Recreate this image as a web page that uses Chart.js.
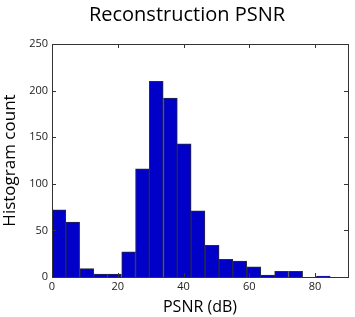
<!DOCTYPE html>
<html lang="en">
  <head>
    <meta charset="UTF-8" />
    <title>Reconstruction PSNR</title>
    <style>
      html, body { margin: 0; padding: 0; background: #fff; }
      #wrap { width: 355px; height: 317px; }
    </style>
  </head>
  <body>
    <div id="wrap"><canvas id="myChart" width="355" height="317"></canvas></div>

    <script src="https://cdn.jsdelivr.net/npm/chart.js"></script>
    <script>
      // histogram bins (centers in dB) and counts
      const binCenters = [2.1, 6.3, 10.6, 14.8, 19.0, 23.3, 27.5, 31.7, 36.0, 40.2,
                          44.4, 48.7, 52.9, 57.1, 61.4, 65.6, 69.8, 74.1, 78.3, 82.5];
      const counts = [72, 59, 9, 3, 3, 27, 116, 210, 192, 143,
                      71, 34, 19, 17, 11, 2, 6, 6, 0, 1];
      const xTicks = [0, 20, 40, 60, 80];
      const yTicks = [0, 50, 100, 150, 200, 250];
      const titleText = "Reconstruction PSNR";

      const FONT = "'Open Sans', 'DejaVu Sans', sans-serif";

      // MATLAB style box with inward ticks on all four sides, plus the title
      const boxPlugin = {
        id: "box",
        afterDatasetsDraw(chart) {
          const { ctx, chartArea: a, scales } = chart;
          ctx.save();
          ctx.strokeStyle = "#333";
          ctx.lineWidth = 1;
          ctx.beginPath();
          xTicks.forEach((v) => {
            const x = Math.round(scales.x.getPixelForValue(v)) + 0.5;
            ctx.moveTo(x, a.bottom); ctx.lineTo(x, a.bottom - 4);
            ctx.moveTo(x, a.top); ctx.lineTo(x, a.top + 4);
          });
          yTicks.forEach((v) => {
            const y = Math.round(scales.y.getPixelForValue(v)) + 0.5;
            ctx.moveTo(a.left, y); ctx.lineTo(a.left + 4, y);
            ctx.moveTo(a.right, y); ctx.lineTo(a.right - 4, y);
          });
          ctx.stroke();
          ctx.strokeRect(Math.round(a.left) + 0.5, Math.round(a.top) + 0.5,
                         Math.round(a.right - a.left), Math.round(a.bottom - a.top));

          ctx.fillStyle = "#000";
          ctx.font = "20px " + FONT;
          ctx.textAlign = "center";
          ctx.textBaseline = "middle";
          ctx.fillText(titleText, 187, 15);
          ctx.restore();
        },
      };

      const ctx = document.getElementById("myChart").getContext("2d");
      new Chart(ctx, {
        type: "bar",
        data: {
          datasets: [
            {
              label: "count",
              data: binCenters.map((c, i) => ({ x: c, y: counts[i] })),
              backgroundColor: "#0000c8",
              borderColor: "#2a2a3a",
              borderWidth: 1,
              barPercentage: 1,
              categoryPercentage: 1,
            },
          ],
        },
        options: {
          responsive: false,
          animation: false,
          layout: { padding: { top: 44, right: 7, left: 0, bottom: 0 } },
          plugins: {
            legend: { display: false },
            tooltip: { enabled: false },
            title: { display: false },
          },
          scales: {
            x: {
              type: "linear",
              offset: false,
              min: 0,
              max: 90,
              afterBuildTicks: (s) => { s.ticks = xTicks.map((v) => ({ value: v })); },
              afterFit: (s) => { s.height = 40; },
              grid: { display: false, drawTicks: false, offset: false },
              border: { display: false },
              ticks: { color: "#222", font: { family: FONT, size: 11 }, padding: 3, maxRotation: 0 },
              title: {
                display: true,
                text: "PSNR (dB)",
                color: "#000",
                font: { family: FONT, size: 16 },
                padding: { top: 0, bottom: 0 },
              },
            },
            y: {
              min: 0,
              max: 250,
              afterBuildTicks: (s) => { s.ticks = yTicks.map((v) => ({ value: v })); },
              afterFit: (s) => { s.width = 52; },
              grid: { display: false, drawTicks: false },
              border: { display: false },
              ticks: { color: "#222", font: { family: FONT, size: 11 }, padding: 4 },
              title: {
                display: true,
                text: "Histogram count",
                color: "#000",
                font: { family: FONT, size: 17 },
                padding: { top: 0, bottom: 2 },
              },
            },
          },
        },
        plugins: [boxPlugin],
      });
    </script>
  </body>
</html>
